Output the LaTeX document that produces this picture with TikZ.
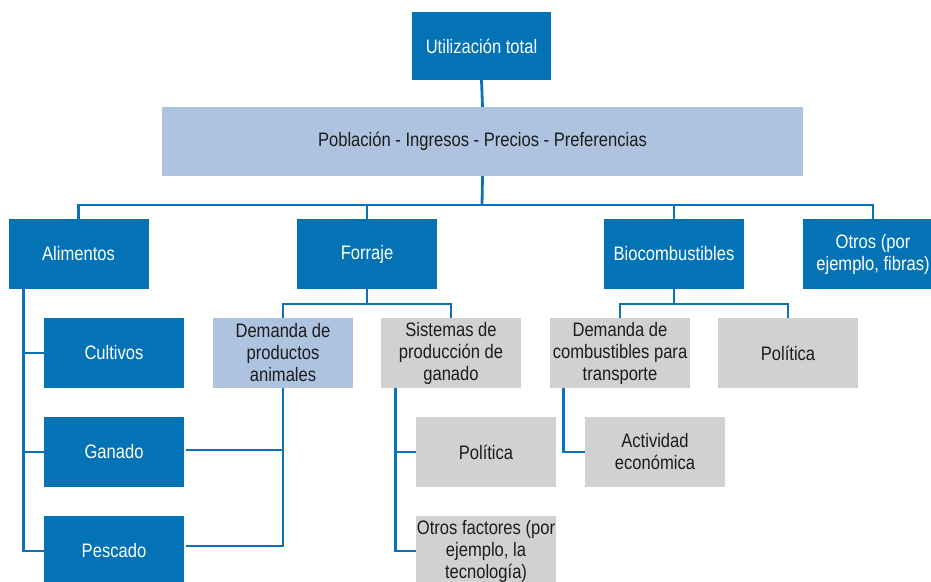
\documentclass[tikz,border=0pt]{standalone}
\usepackage{fontspec}
\setmainfont{Liberation Sans}[FakeStretch=0.85]
\definecolor{dblue}{HTML}{0473B6}
\definecolor{lblue}{HTML}{AEC3DF}
\definecolor{lgray}{HTML}{D0D2D0}
\definecolor{lineblue}{HTML}{0A72B5}
\definecolor{ink}{HTML}{1C1C1C}
\begin{document}
\begin{tikzpicture}[x=1pt,y=-1pt,
  box/.style={minimum width=140pt,minimum height=70pt,inner sep=0pt,align=center,
    font=\fontsize{19.5}{22}\selectfont},
  bluebox/.style={box,fill=dblue,text=white},
  lightbox/.style={box,fill=lblue,text=ink},
  graybox/.style={box,fill=lgray,text=ink},
  conn/.style={draw=lineblue,line width=2.8pt}]
\useasboundingbox (0,0) rectangle (931,581);
\clip (0,0) rectangle (931,581);
% level 1-2
\node[bluebox,minimum width=139pt,minimum height=68pt] (top) at (481.5,46) {Utilización total};
\node[lightbox,minimum width=641pt,minimum height=69pt] (pop) at (482.5,141.5) {Población - Ingresos - Precios - Preferencias};
% level 3
\node[bluebox] (alim) at (78.5,254) {Alimentos};
\node[bluebox] (forr) at (367,254) {Forraje};
\node[bluebox] (bio) at (674,254) {Biocombustibles};
\node[bluebox] (otros) at (873,254) {Otros (por\\ejemplo, fibras)};
% level 4
\node[bluebox] (cult) at (114,353) {Cultivos};
\node[lightbox] (dem) at (283,353) {Demanda de\\productos\\animales};
\node[graybox] (sist) at (451,353) {Sistemas de\\producción de\\ganado};
\node[graybox] (demc) at (620,353) {Demanda de\\combustibles para\\transporte};
\node[graybox] (pol1) at (788,353) {Política};
% level 5
\node[bluebox] (gan) at (114,452) {Ganado};
\node[graybox] (pols) at (486,452) {Política};
\node[graybox] (act) at (655,452) {Actividad\\económica};
% level 6
\node[bluebox] (pesc) at (114,551) {Pescado};
\node[graybox] (otf) at (486,551) {Otros factores (por\\ejemplo, la\\tecnología)};
% bus coordinates
\coordinate (bus) at (482,205);
\coordinate (fbus) at (367,304);
\coordinate (bbus) at (674,304);
% connectors
\draw[conn] (top.south) -- (pop.north);
\draw[conn] (pop.south) -- (bus);
\draw[conn] (alim.north) -- (alim.north |- bus) -- (otros.north |- bus) -- (otros.north);
\draw[conn] (forr.north) -- (forr.north |- bus);
\draw[conn] (bio.north) -- (bio.north |- bus);
\draw[conn] (forr.south) -- (fbus);
\draw[conn] (dem.north) -- (dem.north |- fbus) -- (sist.north |- fbus) -- (sist.north);
\draw[conn] (bio.south) -- (bbus);
\draw[conn] (demc.north) -- (demc.north |- bbus) -- (pol1.north |- bbus) -- (pol1.north);
% alimentos tree
\coordinate (atr) at ([xshift=15pt]alim.south west);
\draw[conn] (atr) |- (pesc.west);
\draw[conn] (atr |- cult.west) -- (cult.west);
\draw[conn] (atr |- gan.west) -- (gan.west);
% demanda animal links
\draw[conn] ([xshift=2pt,yshift=2pt]gan.east) -| (dem.south);
\draw[conn] ([xshift=2pt,yshift=5pt]pesc.east) -| (dem.south);
% sistemas tree
\coordinate (str) at ([xshift=15pt]sist.south west);
\draw[conn] (str) |- (otf.west);
\draw[conn] (str |- pols.west) -- (pols.west);
% combustibles
\coordinate (ctr) at ([xshift=14pt]demc.south west);
\draw[conn] (ctr) |- (act.west);
\end{tikzpicture}
\end{document}
